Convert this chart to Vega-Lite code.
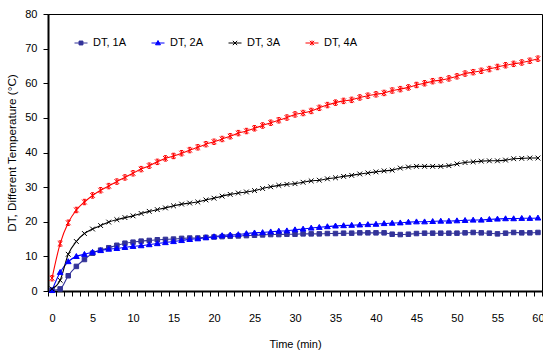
{
  "$schema": "https://vega.github.io/schema/vega-lite/v6.json",
  "autosize": "none",
  "width": 494,
  "height": 277,
  "padding": {"left": 48, "top": 14, "right": 1, "bottom": 61},
  "config": {
    "view": {"stroke": "black", "strokeWidth": 1},
    "font": "Liberation Sans",
    "axis": {"labelFont": "Liberation Sans", "titleFont": "Liberation Sans", "labelColor": "black", "titleColor": "black", "tickColor": "black", "domainColor": "black", "grid": false}
  },
  "data": {"values": [
    {"t":0,"s":"DT, 1A","v":0.2},{"t":1,"s":"DT, 1A","v":0.6},{"t":2,"s":"DT, 1A","v":4.4},{"t":3,"s":"DT, 1A","v":7.1},{"t":4,"s":"DT, 1A","v":9.1},{"t":5,"s":"DT, 1A","v":10.9},{"t":6,"s":"DT, 1A","v":11.8},{"t":7,"s":"DT, 1A","v":12.5},{"t":8,"s":"DT, 1A","v":13.2},{"t":9,"s":"DT, 1A","v":13.8},{"t":10,"s":"DT, 1A","v":14.1},{"t":11,"s":"DT, 1A","v":14.4},{"t":12,"s":"DT, 1A","v":14.6},{"t":13,"s":"DT, 1A","v":14.8},{"t":14,"s":"DT, 1A","v":14.9},{"t":15,"s":"DT, 1A","v":15.0},{"t":16,"s":"DT, 1A","v":15.2},{"t":17,"s":"DT, 1A","v":15.3},{"t":18,"s":"DT, 1A","v":15.3},{"t":19,"s":"DT, 1A","v":15.5},{"t":20,"s":"DT, 1A","v":15.6},{"t":21,"s":"DT, 1A","v":15.7},{"t":22,"s":"DT, 1A","v":15.8},{"t":23,"s":"DT, 1A","v":15.9},{"t":24,"s":"DT, 1A","v":16.0},{"t":25,"s":"DT, 1A","v":16.1},{"t":26,"s":"DT, 1A","v":16.2},{"t":27,"s":"DT, 1A","v":16.3},{"t":28,"s":"DT, 1A","v":16.3},{"t":29,"s":"DT, 1A","v":16.4},{"t":30,"s":"DT, 1A","v":16.4},{"t":31,"s":"DT, 1A","v":16.5},{"t":32,"s":"DT, 1A","v":16.5},{"t":33,"s":"DT, 1A","v":16.5},{"t":34,"s":"DT, 1A","v":16.6},{"t":35,"s":"DT, 1A","v":16.6},{"t":36,"s":"DT, 1A","v":16.7},{"t":37,"s":"DT, 1A","v":16.7},{"t":38,"s":"DT, 1A","v":16.8},{"t":39,"s":"DT, 1A","v":16.8},{"t":40,"s":"DT, 1A","v":16.8},{"t":41,"s":"DT, 1A","v":16.8},{"t":42,"s":"DT, 1A","v":16.4},{"t":43,"s":"DT, 1A","v":16.3},{"t":44,"s":"DT, 1A","v":16.4},{"t":45,"s":"DT, 1A","v":16.6},{"t":46,"s":"DT, 1A","v":16.7},{"t":47,"s":"DT, 1A","v":16.7},{"t":48,"s":"DT, 1A","v":16.7},{"t":49,"s":"DT, 1A","v":16.7},{"t":50,"s":"DT, 1A","v":16.7},{"t":51,"s":"DT, 1A","v":16.8},{"t":52,"s":"DT, 1A","v":16.9},{"t":53,"s":"DT, 1A","v":16.8},{"t":54,"s":"DT, 1A","v":16.7},{"t":55,"s":"DT, 1A","v":16.5},{"t":56,"s":"DT, 1A","v":16.7},{"t":57,"s":"DT, 1A","v":16.9},{"t":58,"s":"DT, 1A","v":16.8},{"t":59,"s":"DT, 1A","v":16.8},{"t":60,"s":"DT, 1A","v":16.9},
    {"t":0,"s":"DT, 2A","v":0.2},{"t":1,"s":"DT, 2A","v":5.4},{"t":2,"s":"DT, 2A","v":8.5},{"t":3,"s":"DT, 2A","v":10.0},{"t":4,"s":"DT, 2A","v":10.6},{"t":5,"s":"DT, 2A","v":11.2},{"t":6,"s":"DT, 2A","v":11.7},{"t":7,"s":"DT, 2A","v":12.1},{"t":8,"s":"DT, 2A","v":12.3},{"t":9,"s":"DT, 2A","v":12.6},{"t":10,"s":"DT, 2A","v":12.9},{"t":11,"s":"DT, 2A","v":13.1},{"t":12,"s":"DT, 2A","v":13.4},{"t":13,"s":"DT, 2A","v":13.7},{"t":14,"s":"DT, 2A","v":14.0},{"t":15,"s":"DT, 2A","v":14.3},{"t":16,"s":"DT, 2A","v":14.6},{"t":17,"s":"DT, 2A","v":14.9},{"t":18,"s":"DT, 2A","v":15.1},{"t":19,"s":"DT, 2A","v":15.4},{"t":20,"s":"DT, 2A","v":15.7},{"t":21,"s":"DT, 2A","v":16.0},{"t":22,"s":"DT, 2A","v":16.2},{"t":23,"s":"DT, 2A","v":16.3},{"t":24,"s":"DT, 2A","v":16.6},{"t":25,"s":"DT, 2A","v":16.8},{"t":26,"s":"DT, 2A","v":16.9},{"t":27,"s":"DT, 2A","v":17.1},{"t":28,"s":"DT, 2A","v":17.3},{"t":29,"s":"DT, 2A","v":17.4},{"t":30,"s":"DT, 2A","v":17.7},{"t":31,"s":"DT, 2A","v":17.9},{"t":32,"s":"DT, 2A","v":18.2},{"t":33,"s":"DT, 2A","v":18.4},{"t":34,"s":"DT, 2A","v":18.6},{"t":35,"s":"DT, 2A","v":18.8},{"t":36,"s":"DT, 2A","v":18.9},{"t":37,"s":"DT, 2A","v":19.0},{"t":38,"s":"DT, 2A","v":19.1},{"t":39,"s":"DT, 2A","v":19.2},{"t":40,"s":"DT, 2A","v":19.3},{"t":41,"s":"DT, 2A","v":19.5},{"t":42,"s":"DT, 2A","v":19.6},{"t":43,"s":"DT, 2A","v":19.7},{"t":44,"s":"DT, 2A","v":19.9},{"t":45,"s":"DT, 2A","v":20.0},{"t":46,"s":"DT, 2A","v":20.0},{"t":47,"s":"DT, 2A","v":20.1},{"t":48,"s":"DT, 2A","v":20.2},{"t":49,"s":"DT, 2A","v":20.2},{"t":50,"s":"DT, 2A","v":20.3},{"t":51,"s":"DT, 2A","v":20.4},{"t":52,"s":"DT, 2A","v":20.5},{"t":53,"s":"DT, 2A","v":20.5},{"t":54,"s":"DT, 2A","v":20.7},{"t":55,"s":"DT, 2A","v":20.8},{"t":56,"s":"DT, 2A","v":20.9},{"t":57,"s":"DT, 2A","v":20.9},{"t":58,"s":"DT, 2A","v":21.0},{"t":59,"s":"DT, 2A","v":21.0},{"t":60,"s":"DT, 2A","v":21.1},
    {"t":0,"s":"DT, 3A","v":0.6},{"t":1,"s":"DT, 3A","v":3.1},{"t":2,"s":"DT, 3A","v":10.6},{"t":3,"s":"DT, 3A","v":14.3},{"t":4,"s":"DT, 3A","v":16.6},{"t":5,"s":"DT, 3A","v":17.9},{"t":6,"s":"DT, 3A","v":18.9},{"t":7,"s":"DT, 3A","v":19.9},{"t":8,"s":"DT, 3A","v":20.6},{"t":9,"s":"DT, 3A","v":21.2},{"t":10,"s":"DT, 3A","v":21.7},{"t":11,"s":"DT, 3A","v":22.4},{"t":12,"s":"DT, 3A","v":23.0},{"t":13,"s":"DT, 3A","v":23.5},{"t":14,"s":"DT, 3A","v":24.0},{"t":15,"s":"DT, 3A","v":24.6},{"t":16,"s":"DT, 3A","v":25.1},{"t":17,"s":"DT, 3A","v":25.4},{"t":18,"s":"DT, 3A","v":25.7},{"t":19,"s":"DT, 3A","v":26.3},{"t":20,"s":"DT, 3A","v":26.8},{"t":21,"s":"DT, 3A","v":27.4},{"t":22,"s":"DT, 3A","v":27.9},{"t":23,"s":"DT, 3A","v":28.3},{"t":24,"s":"DT, 3A","v":28.6},{"t":25,"s":"DT, 3A","v":29.0},{"t":26,"s":"DT, 3A","v":29.6},{"t":27,"s":"DT, 3A","v":30.1},{"t":28,"s":"DT, 3A","v":30.5},{"t":29,"s":"DT, 3A","v":30.8},{"t":30,"s":"DT, 3A","v":31.0},{"t":31,"s":"DT, 3A","v":31.4},{"t":32,"s":"DT, 3A","v":31.8},{"t":33,"s":"DT, 3A","v":32.0},{"t":34,"s":"DT, 3A","v":32.4},{"t":35,"s":"DT, 3A","v":32.7},{"t":36,"s":"DT, 3A","v":33.1},{"t":37,"s":"DT, 3A","v":33.4},{"t":38,"s":"DT, 3A","v":33.8},{"t":39,"s":"DT, 3A","v":34.1},{"t":40,"s":"DT, 3A","v":34.4},{"t":41,"s":"DT, 3A","v":34.7},{"t":42,"s":"DT, 3A","v":34.9},{"t":43,"s":"DT, 3A","v":35.5},{"t":44,"s":"DT, 3A","v":35.8},{"t":45,"s":"DT, 3A","v":36.0},{"t":46,"s":"DT, 3A","v":36.0},{"t":47,"s":"DT, 3A","v":36.0},{"t":48,"s":"DT, 3A","v":36.0},{"t":49,"s":"DT, 3A","v":36.2},{"t":50,"s":"DT, 3A","v":36.7},{"t":51,"s":"DT, 3A","v":37.1},{"t":52,"s":"DT, 3A","v":37.3},{"t":53,"s":"DT, 3A","v":37.5},{"t":54,"s":"DT, 3A","v":37.6},{"t":55,"s":"DT, 3A","v":37.6},{"t":56,"s":"DT, 3A","v":37.8},{"t":57,"s":"DT, 3A","v":38.2},{"t":58,"s":"DT, 3A","v":38.3},{"t":59,"s":"DT, 3A","v":38.4},{"t":60,"s":"DT, 3A","v":38.4},
    {"t":0,"s":"DT, 4A","v":3.7},{"t":1,"s":"DT, 4A","v":13.7},{"t":2,"s":"DT, 4A","v":19.7},{"t":3,"s":"DT, 4A","v":23.4},{"t":4,"s":"DT, 4A","v":25.7},{"t":5,"s":"DT, 4A","v":27.6},{"t":6,"s":"DT, 4A","v":29.1},{"t":7,"s":"DT, 4A","v":30.3},{"t":8,"s":"DT, 4A","v":31.6},{"t":9,"s":"DT, 4A","v":32.8},{"t":10,"s":"DT, 4A","v":34.0},{"t":11,"s":"DT, 4A","v":35.2},{"t":12,"s":"DT, 4A","v":36.2},{"t":13,"s":"DT, 4A","v":37.3},{"t":14,"s":"DT, 4A","v":38.3},{"t":15,"s":"DT, 4A","v":39.0},{"t":16,"s":"DT, 4A","v":39.8},{"t":17,"s":"DT, 4A","v":40.7},{"t":18,"s":"DT, 4A","v":41.5},{"t":19,"s":"DT, 4A","v":42.4},{"t":20,"s":"DT, 4A","v":43.1},{"t":21,"s":"DT, 4A","v":43.9},{"t":22,"s":"DT, 4A","v":44.7},{"t":23,"s":"DT, 4A","v":45.6},{"t":24,"s":"DT, 4A","v":46.2},{"t":25,"s":"DT, 4A","v":47.0},{"t":26,"s":"DT, 4A","v":47.8},{"t":27,"s":"DT, 4A","v":48.6},{"t":28,"s":"DT, 4A","v":49.3},{"t":29,"s":"DT, 4A","v":50.1},{"t":30,"s":"DT, 4A","v":51.0},{"t":31,"s":"DT, 4A","v":51.4},{"t":32,"s":"DT, 4A","v":52.0},{"t":33,"s":"DT, 4A","v":52.9},{"t":34,"s":"DT, 4A","v":53.7},{"t":35,"s":"DT, 4A","v":54.4},{"t":36,"s":"DT, 4A","v":54.9},{"t":37,"s":"DT, 4A","v":55.2},{"t":38,"s":"DT, 4A","v":55.9},{"t":39,"s":"DT, 4A","v":56.4},{"t":40,"s":"DT, 4A","v":56.8},{"t":41,"s":"DT, 4A","v":57.2},{"t":42,"s":"DT, 4A","v":57.9},{"t":43,"s":"DT, 4A","v":58.3},{"t":44,"s":"DT, 4A","v":58.8},{"t":45,"s":"DT, 4A","v":59.5},{"t":46,"s":"DT, 4A","v":60.0},{"t":47,"s":"DT, 4A","v":60.6},{"t":48,"s":"DT, 4A","v":60.9},{"t":49,"s":"DT, 4A","v":61.4},{"t":50,"s":"DT, 4A","v":62.0},{"t":51,"s":"DT, 4A","v":62.8},{"t":52,"s":"DT, 4A","v":63.2},{"t":53,"s":"DT, 4A","v":63.6},{"t":54,"s":"DT, 4A","v":64.1},{"t":55,"s":"DT, 4A","v":64.7},{"t":56,"s":"DT, 4A","v":65.2},{"t":57,"s":"DT, 4A","v":65.6},{"t":58,"s":"DT, 4A","v":66.0},{"t":59,"s":"DT, 4A","v":66.5},{"t":60,"s":"DT, 4A","v":67.1}
  ]},
  "encoding": {
    "x": {
      "field": "t", "type": "quantitative",
      "scale": {"domain": [-0.5, 60.5], "nice": false, "zero": false},
      "axis": {
        "title": "Time (min)", "titleFontSize": 11, "titleFontWeight": "normal", "titlePadding": 15,
        "values": [-0.5,0.5,1.5,2.5,3.5,4.5,5.5,6.5,7.5,8.5,9.5,10.5,11.5,12.5,13.5,14.5,15.5,16.5,17.5,18.5,19.5,20.5,21.5,22.5,23.5,24.5,25.5,26.5,27.5,28.5,29.5,30.5,31.5,32.5,33.5,34.5,35.5,36.5,37.5,38.5,39.5,40.5,41.5,42.5,43.5,44.5,45.5,46.5,47.5,48.5,49.5,50.5,51.5,52.5,53.5,54.5,55.5,56.5,57.5,58.5,59.5,60.5],
        "labelExpr": "(datum.value + 0.5) % 5 == 0 ? format(datum.value + 0.5, 'd') : ''",
        "labelOffset": 4.05, "labelOverlap": false, "labelBound": false, "labelFlush": false,
        "labelFontSize": 11, "labelPadding": 16, "tickSize": 5, "tickWidth": 1, "domainWidth": 2
      }
    },
    "y": {
      "field": "v", "type": "quantitative",
      "scale": {"domain": [0, 80], "nice": false},
      "axis": {
        "title": "DT, Different Temperature (°C)", "titleFontSize": 11.7, "titleFontWeight": "normal", "titlePadding": 7,
        "values": [0,10,20,30,40,50,60,70,80], "labelFontSize": 11, "labelPadding": 6,
        "tickSize": 5, "tickWidth": 1, "domainWidth": 2
      }
    }
  },
  "layer": [
    {
      "mark": {"type": "line", "interpolate": "monotone", "strokeWidth": 1.1},
      "encoding": {
        "color": {"field": "s", "type": "nominal",
          "scale": {"domain": ["DT, 1A","DT, 2A","DT, 3A","DT, 4A"], "range": ["#333399","#0000FF","#000000","#FF0000"]},
          "legend": {
            "orient": "none", "legendX": 26, "legendY": 22, "direction": "horizontal", "title": null,
            "labelFont": "Liberation Sans", "labelFontSize": 11, "labelColor": "black",
            "symbolSize": 169, "symbolStrokeWidth": 1, "columnPadding": 22, "labelOffset": 5, "gridAlign": "all", "padding": 0,
            "encode": {"symbols": {"update": {
              "size": {"value": 169},
              "strokeWidth": {"value": 1},
              "fill": {"scale": "color", "field": "value"},
              "stroke": {"scale": "color", "field": "value"},
              "opacity": {"value": 1},
              "shape": {"signal": "datum.value === 'DT, 1A' ? 'M-1,0H1M-0.3,-0.3H0.3V0.3H-0.3Z' : datum.value === 'DT, 2A' ? 'M-1,0H1M0,-0.38L0.38,0.28H-0.38Z' : datum.value === 'DT, 3A' ? 'M-1,0H1M-0.33,-0.33L0.33,0.33M-0.33,0.33L0.33,-0.33' : 'M-1,0H1M-0.33,-0.33L0.33,0.33M-0.33,0.33L0.33,-0.33M0,-0.38V0.38'"}
            }}}
          }
        }
      }
    },
    {
      "transform": [{"filter": "datum.s === 'DT, 1A'"}],
      "mark": {"type": "point", "filled": true, "size": 36, "strokeWidth": 1, "opacity": 1, "fill": "#333399", "stroke": "#333399", "shape": "M-0.75,-0.75H0.75V0.75H-0.75Z"}
    },
    {
      "transform": [{"filter": "datum.s === 'DT, 2A'"}],
      "mark": {"type": "point", "filled": true, "size": 36, "strokeWidth": 1, "opacity": 1, "fill": "#0000FF", "stroke": "#0000FF", "shape": "M0,-0.95L0.95,0.7H-0.95Z"}
    },
    {
      "transform": [{"filter": "datum.s === 'DT, 3A'"}],
      "mark": {"type": "point", "filled": false, "size": 36, "strokeWidth": 1, "opacity": 1, "stroke": "#000000", "shape": "M-0.8,-0.8L0.8,0.8M-0.8,0.8L0.8,-0.8"}
    },
    {
      "transform": [{"filter": "datum.s === 'DT, 4A'"}],
      "mark": {"type": "point", "filled": false, "size": 36, "strokeWidth": 1, "opacity": 1, "stroke": "#FF0000", "shape": "M-0.8,-0.8L0.8,0.8M-0.8,0.8L0.8,-0.8M0,-0.9V0.9M-0.5,-0.9H0.5M-0.5,0.9H0.5"}
    }
  ]
}
